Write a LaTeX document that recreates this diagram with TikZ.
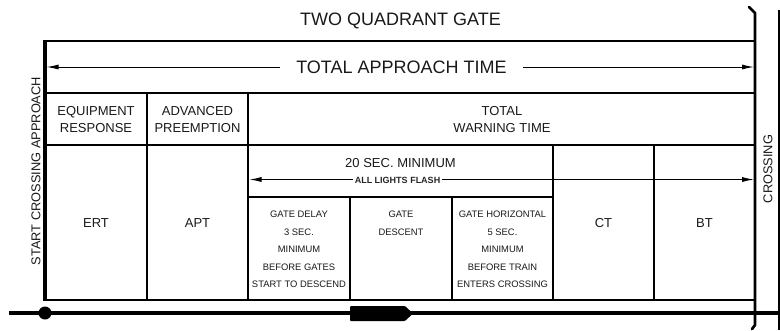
\documentclass[tikz,border=0pt]{standalone}
\usepackage{fontspec}
\setmainfont{Liberation Sans}
\usetikzlibrary{arrows.meta}
\begin{document}
\begin{tikzpicture}[x=1pt,y=-1pt,
  frame/.style={line width=2.7pt,line cap=rect},
  arr/.style={line width=1pt,-{Latex[length=12pt,width=5pt]}},
  ttl/.style={font=\fontsize{18}{20}\selectfont,text=black!90,inner sep=0pt},
  cell/.style={font=\fontsize{13}{15}\selectfont,text=black!90,inner sep=0pt,anchor=base},
  small/.style={font=\fontsize{9.4}{11}\selectfont,text=black!90,inner sep=0pt,anchor=base},
  tiny/.style={font=\bfseries\fontsize{9}{10}\selectfont,text=black!85,inner xsep=1.2pt,inner ysep=0pt,anchor=base}
]
\useasboundingbox (0,0) rectangle (780,330);
% frame lines
\draw[frame] (45,41) -- (755,41);
\draw[frame] (45,93) -- (755,93);
\draw[frame] (45,145) -- (755,145);
\draw[frame] (248,197) -- (553,197);
\draw[frame] (45,300) -- (755,300);
\draw[line width=3.3pt] (45,39.7) -- (45,301.3);
\draw[frame] (147,93) -- (147,300);
\draw[frame] (248,93) -- (248,300);
\draw[frame] (350,197) -- (350,300);
\draw[frame] (452,197) -- (452,300);
\draw[frame] (553,145) -- (553,300);
\draw[frame] (654,145) -- (654,300);
% crossing lines
\draw[line width=2.7pt,line join=round,line cap=round] (749,7) -- (755,13) -- (755,325) -- (752,329);
\draw[line width=1.6pt] (779,10) -- (779,330);
% track
\draw[line width=4pt] (9,313) -- (780,313);
\fill (45,313) circle (6.5);
\fill[rounded corners=1pt] (350,306) -- (405,306) -- (413,313.5) -- (405,321) -- (350,321) -- cycle;
% title
\node[ttl,anchor=base] (title) at (400.5,25) {TWO QUADRANT GATE};
\node[ttl,anchor=base,inner xsep=16pt] (tat) at (401.5,73.4) {TOTAL APPROACH TIME};
\coordinate (tatL) at (46.5,67);
\coordinate (tatR) at (754,67);
\draw[arr] (tat.west |- tatL) -- (tatL);
\draw[arr] (tat.east |- tatR) -- (tatR);
% rotated labels
\node[font=\fontsize{12.8}{14}\selectfont,text=black!90,rotate=90,inner sep=0pt] (start) at (36,171) {START CROSSING APPROACH};
\node[font=\fontsize{12.8}{14}\selectfont,text=black!90,rotate=90,inner sep=0pt] (cross) at (768,169) {CROSSING};
% header cells
\node[cell] (er1) at (96,115.2) {EQUIPMENT};
\node[cell] (er2) at (96,132.2) {RESPONSE};
\node[cell] (ap1) at (197.5,115.2) {ADVANCED};
\node[cell] (ap2) at (197.5,132.2) {PREEMPTION};
\node[cell] (tw1) at (502,115.2) {TOTAL};
\node[cell] (tw2) at (502,132.2) {WARNING TIME};
% 20 sec
\node[cell] (min20) at (400.5,167) {20 SEC. MINIMUM};
\node[tiny] (alf) at (397.5,183.2) {ALL LIGHTS FLASH};
\coordinate (alfL) at (249.5,179.5);
\coordinate (alfR) at (754,179.5);
\draw[arr] (alf.west |- alfL) -- (alfL);
\draw[arr] (alf.east |- alfR) -- (alfR);
% big cells
\node[cell] (ert) at (96,227) {ERT};
\node[cell] (apt) at (197.5,227) {APT};
\node[cell] (ct) at (603.5,227) {CT};
\node[cell] (bt) at (704.5,227) {BT};
% gate delay
\node[small] (gd1) at (299,217.5) {GATE DELAY};
\node[small] (gd2) at (299,235) {3 SEC.};
\node[small] (gd3) at (299,252.5) {MINIMUM};
\node[small] (gd4) at (299,270) {BEFORE GATES};
\node[small] (gd5) at (299,287.5) {START TO DESCEND};
% gate descent
\node[small] (gs1) at (401,217.5) {GATE};
\node[small] (gs2) at (401,235) {DESCENT};
% gate horizontal
\node[small] (gh1) at (502.5,217.5) {GATE HORIZONTAL};
\node[small] (gh2) at (502.5,235) {5 SEC.};
\node[small] (gh3) at (502.5,252.5) {MINIMUM};
\node[small] (gh4) at (502.5,270) {BEFORE TRAIN};
\node[small] (gh5) at (502.5,287.5) {ENTERS CROSSING};
\end{tikzpicture}
\end{document}
